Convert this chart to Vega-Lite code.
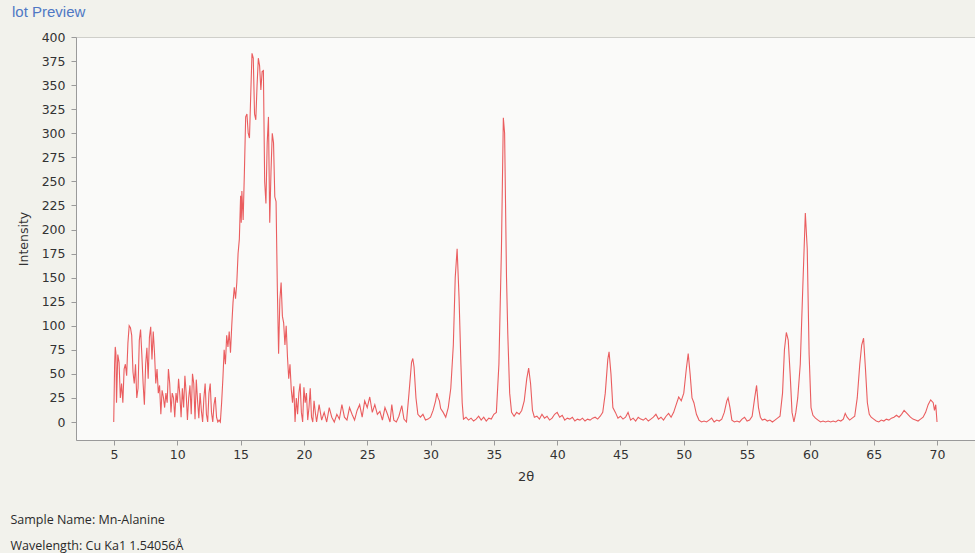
{
  "$schema": "https://vega.github.io/schema/vega-lite/v6.json",
  "autosize": {"type": "none"},
  "padding": {"left": 76, "top": 37, "right": 0, "bottom": 113},
  "width": 899,
  "height": 403,
  "background": "#f2f2ec",
  "title": {"text": "lot Preview", "anchor": "start", "frame": "group", "dx": -64, "offset": 11, "fontSize": 15, "font": "Liberation Sans", "fontWeight": "normal", "color": "#4f78c4"},
  "config": {
    "view": {"fill": "#fafaf9", "stroke": "#cfcfca", "strokeWidth": 1},
    "axis": {"labelFont": "DejaVu Sans", "labelFontSize": 12.5, "labelColor": "#333333", "titleFont": "DejaVu Sans", "titleFontWeight": "normal", "titleColor": "#333333", "domainColor": "#9a9a9a", "tickColor": "#9a9a9a", "grid": false, "tickSize": 5}
  },
  "data": {"values": [
    {"t":4.98,"i":0},{"t":5.05,"i":60},{"t":5.1,"i":78},{"t":5.15,"i":72},{"t":5.2,"i":20},{"t":5.3,"i":70},{"t":5.4,"i":62},{"t":5.5,"i":25},{"t":5.6,"i":40},{"t":5.7,"i":20},{"t":5.8,"i":55},{"t":5.9,"i":60},{"t":6.0,"i":48},{"t":6.1,"i":82},{"t":6.2,"i":100},{"t":6.3,"i":98},{"t":6.4,"i":90},{"t":6.5,"i":52},{"t":6.6,"i":40},{"t":6.7,"i":60},{"t":6.8,"i":25},{"t":6.9,"i":35},{"t":7.0,"i":85},{"t":7.1,"i":96},{"t":7.2,"i":70},{"t":7.3,"i":40},{"t":7.4,"i":18},{"t":7.5,"i":60},{"t":7.6,"i":77},{"t":7.7,"i":45},{"t":7.8,"i":88},{"t":7.9,"i":99},{"t":8.0,"i":65},{"t":8.1,"i":94},{"t":8.2,"i":72},{"t":8.3,"i":40},{"t":8.4,"i":55},{"t":8.5,"i":30},{"t":8.6,"i":38},{"t":8.7,"i":8},{"t":8.8,"i":33},{"t":8.9,"i":26},{"t":9.0,"i":15},{"t":9.1,"i":30},{"t":9.2,"i":20},{"t":9.3,"i":55},{"t":9.4,"i":40},{"t":9.5,"i":10},{"t":9.6,"i":30},{"t":9.7,"i":25},{"t":9.8,"i":5},{"t":9.9,"i":30},{"t":10.0,"i":20},{"t":10.1,"i":45},{"t":10.2,"i":28},{"t":10.3,"i":5},{"t":10.4,"i":35},{"t":10.5,"i":15},{"t":10.6,"i":48},{"t":10.7,"i":30},{"t":10.8,"i":2},{"t":10.9,"i":25},{"t":11.0,"i":38},{"t":11.1,"i":8},{"t":11.2,"i":50},{"t":11.3,"i":40},{"t":11.4,"i":3},{"t":11.5,"i":44},{"t":11.6,"i":22},{"t":11.7,"i":4},{"t":11.8,"i":30},{"t":11.9,"i":12},{"t":12.0,"i":0},{"t":12.1,"i":25},{"t":12.2,"i":40},{"t":12.3,"i":8},{"t":12.4,"i":0},{"t":12.5,"i":30},{"t":12.6,"i":40},{"t":12.7,"i":10},{"t":12.8,"i":0},{"t":12.9,"i":18},{"t":13.0,"i":26},{"t":13.1,"i":5},{"t":13.2,"i":0},{"t":13.3,"i":2},{"t":13.4,"i":0},{"t":13.5,"i":20},{"t":13.6,"i":45},{"t":13.7,"i":75},{"t":13.8,"i":60},{"t":13.9,"i":90},{"t":14.0,"i":78},{"t":14.1,"i":94},{"t":14.2,"i":72},{"t":14.3,"i":100},{"t":14.4,"i":124},{"t":14.5,"i":140},{"t":14.6,"i":128},{"t":14.7,"i":145},{"t":14.8,"i":175},{"t":14.9,"i":190},{"t":15.0,"i":235},{"t":15.05,"i":207},{"t":15.1,"i":240},{"t":15.2,"i":210},{"t":15.3,"i":260},{"t":15.4,"i":317},{"t":15.5,"i":320},{"t":15.6,"i":300},{"t":15.7,"i":295},{"t":15.8,"i":340},{"t":15.9,"i":383},{"t":16.0,"i":378},{"t":16.1,"i":320},{"t":16.2,"i":314},{"t":16.3,"i":350},{"t":16.4,"i":378},{"t":16.5,"i":370},{"t":16.6,"i":345},{"t":16.7,"i":364},{"t":16.8,"i":365},{"t":16.9,"i":250},{"t":17.0,"i":227},{"t":17.1,"i":290},{"t":17.2,"i":317},{"t":17.3,"i":207},{"t":17.4,"i":260},{"t":17.5,"i":300},{"t":17.6,"i":290},{"t":17.7,"i":234},{"t":17.8,"i":229},{"t":17.9,"i":140},{"t":18.0,"i":71},{"t":18.1,"i":127},{"t":18.2,"i":145},{"t":18.3,"i":110},{"t":18.4,"i":103},{"t":18.5,"i":80},{"t":18.6,"i":100},{"t":18.7,"i":68},{"t":18.8,"i":45},{"t":18.9,"i":60},{"t":19.0,"i":34},{"t":19.1,"i":20},{"t":19.2,"i":37},{"t":19.3,"i":0},{"t":19.4,"i":25},{"t":19.5,"i":8},{"t":19.6,"i":30},{"t":19.7,"i":40},{"t":19.8,"i":10},{"t":19.9,"i":0},{"t":20.0,"i":36},{"t":20.1,"i":20},{"t":20.2,"i":30},{"t":20.3,"i":2},{"t":20.4,"i":15},{"t":20.5,"i":35},{"t":20.6,"i":5},{"t":20.7,"i":0},{"t":20.8,"i":22},{"t":20.9,"i":10},{"t":21.0,"i":0},
    {"t":21.2,"i":18},{"t":21.4,"i":2},{"t":21.6,"i":10},{"t":21.8,"i":0},{"t":22.0,"i":15},{"t":22.2,"i":5},{"t":22.4,"i":0},{"t":22.6,"i":8},{"t":22.8,"i":3},{"t":23.0,"i":18},{"t":23.2,"i":5},{"t":23.4,"i":2},{"t":23.6,"i":15},{"t":23.8,"i":8},{"t":24.0,"i":2},{"t":24.2,"i":12},{"t":24.4,"i":18},{"t":24.6,"i":5},{"t":24.8,"i":22},{"t":25.0,"i":15},{"t":25.2,"i":26},{"t":25.4,"i":10},{"t":25.6,"i":18},{"t":25.8,"i":8},{"t":26.0,"i":11},{"t":26.2,"i":2},{"t":26.4,"i":15},{"t":26.6,"i":8},{"t":26.8,"i":0},{"t":26.94,"i":18},{"t":27.1,"i":2},{"t":27.3,"i":0},{"t":27.5,"i":6},{"t":27.73,"i":17},{"t":27.9,"i":3},{"t":28.1,"i":0},{"t":28.3,"i":30},{"t":28.5,"i":62},{"t":28.6,"i":66},{"t":28.7,"i":57},{"t":28.85,"i":25},{"t":29.0,"i":8},{"t":29.2,"i":5},{"t":29.4,"i":8},{"t":29.6,"i":2},{"t":29.8,"i":3},{"t":30.0,"i":5},{"t":30.2,"i":12},{"t":30.4,"i":22},{"t":30.5,"i":30},{"t":30.6,"i":25},{"t":30.7,"i":22},{"t":30.8,"i":14},{"t":31.0,"i":10},{"t":31.2,"i":5},{"t":31.4,"i":15},{"t":31.6,"i":35},{"t":31.8,"i":80},{"t":31.95,"i":150},{"t":32.1,"i":180},{"t":32.25,"i":130},{"t":32.4,"i":60},{"t":32.5,"i":20},{"t":32.6,"i":3},{"t":32.8,"i":5},{"t":33.0,"i":2},{"t":33.2,"i":4},{"t":33.4,"i":1},{"t":33.6,"i":3},{"t":33.8,"i":6},{"t":34.0,"i":2},{"t":34.2,"i":5},{"t":34.4,"i":1},{"t":34.6,"i":4},{"t":34.8,"i":3},{"t":35.0,"i":8},{"t":35.2,"i":10},{"t":35.4,"i":60},{"t":35.6,"i":180},{"t":35.75,"i":316},{"t":35.85,"i":300},{"t":36.0,"i":150},{"t":36.1,"i":92},{"t":36.25,"i":30},{"t":36.4,"i":10},{"t":36.6,"i":6},{"t":36.8,"i":10},{"t":37.0,"i":8},{"t":37.2,"i":12},{"t":37.4,"i":22},{"t":37.6,"i":45},{"t":37.75,"i":56},{"t":37.9,"i":40},{"t":38.05,"i":12},{"t":38.2,"i":5},{"t":38.4,"i":6},{"t":38.6,"i":3},{"t":38.8,"i":8},{"t":39.0,"i":4},{"t":39.2,"i":6},{"t":39.4,"i":2},{"t":39.6,"i":4},{"t":39.8,"i":8},{"t":40.0,"i":10},{"t":40.2,"i":5},{"t":40.4,"i":7},{"t":40.6,"i":2},{"t":40.8,"i":4},{"t":41.0,"i":3},{"t":41.2,"i":5},{"t":41.4,"i":1},{"t":41.6,"i":3},{"t":41.8,"i":2},{"t":42.0,"i":4},{"t":42.2,"i":1},{"t":42.4,"i":3},{"t":42.6,"i":2},{"t":42.8,"i":4},{"t":43.0,"i":5},{"t":43.2,"i":3},{"t":43.4,"i":6},{"t":43.6,"i":10},{"t":43.8,"i":30},{"t":44.0,"i":65},{"t":44.1,"i":73},{"t":44.25,"i":50},{"t":44.4,"i":15},{"t":44.6,"i":10},{"t":44.8,"i":4},{"t":45.0,"i":6},{"t":45.2,"i":3},{"t":45.4,"i":5},{"t":45.6,"i":10},{"t":45.8,"i":2},{"t":46.0,"i":4},{"t":46.2,"i":1},{"t":46.4,"i":5},{"t":46.6,"i":3},{"t":46.8,"i":2},{"t":47.0,"i":4},{"t":47.2,"i":1},{"t":47.4,"i":3},{"t":47.6,"i":5},{"t":47.8,"i":8},{"t":48.0,"i":3},{"t":48.2,"i":5},{"t":48.4,"i":2},{"t":48.6,"i":6},{"t":48.8,"i":9},{"t":49.0,"i":5},{"t":49.2,"i":10},{"t":49.4,"i":18},{"t":49.6,"i":26},{"t":49.8,"i":22},{"t":50.0,"i":30},{"t":50.2,"i":55},{"t":50.35,"i":71},{"t":50.5,"i":50},{"t":50.65,"i":25},{"t":50.8,"i":20},{"t":51.0,"i":8},{"t":51.2,"i":2},{"t":51.4,"i":0},{"t":51.6,"i":1},{"t":51.8,"i":0},{"t":52.0,"i":2},{"t":52.2,"i":4},{"t":52.4,"i":0},{"t":52.6,"i":2},{"t":52.8,"i":1},{"t":53.0,"i":3},{"t":53.2,"i":10},{"t":53.4,"i":22},{"t":53.5,"i":25},{"t":53.65,"i":15},{"t":53.8,"i":2},{"t":54.0,"i":0},{"t":54.2,"i":1},{"t":54.4,"i":0},{"t":54.6,"i":3},{"t":54.8,"i":5},{"t":55.0,"i":1},{"t":55.2,"i":2},{"t":55.4,"i":6},{"t":55.6,"i":25},{"t":55.75,"i":38},{"t":55.9,"i":15},{"t":56.05,"i":5},{"t":56.2,"i":2},{"t":56.4,"i":3},{"t":56.6,"i":1},{"t":56.8,"i":2},{"t":57.0,"i":0},{"t":57.2,"i":2},{"t":57.4,"i":4},{"t":57.6,"i":6},{"t":57.8,"i":30},{"t":57.95,"i":75},{"t":58.1,"i":93},{"t":58.25,"i":85},{"t":58.4,"i":50},{"t":58.55,"i":10},{"t":58.7,"i":0},{"t":58.85,"i":10},{"t":59.0,"i":25},{"t":59.2,"i":60},{"t":59.4,"i":140},{"t":59.6,"i":217},{"t":59.75,"i":180},{"t":59.9,"i":70},{"t":60.05,"i":15},{"t":60.2,"i":7},{"t":60.4,"i":4},{"t":60.6,"i":2},{"t":60.8,"i":0},{"t":61.0,"i":1},{"t":61.2,"i":0},{"t":61.4,"i":1},{"t":61.6,"i":0},{"t":61.8,"i":1},{"t":62.0,"i":0},{"t":62.2,"i":2},{"t":62.4,"i":1},{"t":62.6,"i":3},{"t":62.75,"i":9},{"t":62.9,"i":5},{"t":63.1,"i":2},{"t":63.3,"i":4},{"t":63.5,"i":6},{"t":63.7,"i":25},{"t":63.9,"i":60},{"t":64.05,"i":80},{"t":64.2,"i":87},{"t":64.35,"i":55},{"t":64.5,"i":20},{"t":64.65,"i":8},{"t":64.8,"i":5},{"t":65.0,"i":3},{"t":65.2,"i":1},{"t":65.4,"i":0},{"t":65.6,"i":2},{"t":65.8,"i":1},{"t":66.0,"i":3},{"t":66.2,"i":2},{"t":66.4,"i":4},{"t":66.6,"i":5},{"t":66.8,"i":7},{"t":67.0,"i":5},{"t":67.2,"i":8},{"t":67.4,"i":12},{"t":67.55,"i":10},{"t":67.7,"i":8},{"t":67.9,"i":5},{"t":68.1,"i":3},{"t":68.3,"i":2},{"t":68.5,"i":1},{"t":68.7,"i":3},{"t":68.9,"i":5},{"t":69.1,"i":10},{"t":69.3,"i":18},{"t":69.5,"i":23},{"t":69.7,"i":20},{"t":69.8,"i":12},{"t":69.9,"i":18},{"t":70.0,"i":0}
  ]},
  "layer": [
    {
      "mark": {"type": "line", "color": "#ea5d5f", "strokeWidth": 1.1},
      "encoding": {
        "x": {"field": "t", "type": "quantitative", "scale": {"domain": [2, 73], "nice": false, "zero": false}, "axis": {"title": "2θ", "titleFontSize": 13, "values": [5,10,15,20,25,30,35,40,45,50,55,60,65,70], "labelPadding": 3, "titlePadding": 10}},
        "y": {"field": "i", "type": "quantitative", "scale": {"domain": [-18.7, 400], "nice": false, "zero": false}, "axis": {"title": "Intensity", "titleFontSize": 12.5, "values": [0,25,50,75,100,125,150,175,200,225,250,275,300,325,350,375,400], "labelPadding": 6, "titlePadding": 11}}
      }
    },
    {
      "data": {"values": []},
      "mark": {"type": "rule"},
      "encoding": {
        "x": {"field": "t", "type": "quantitative", "axis": {"orient": "bottom", "domain": false, "ticks": false, "labels": false, "title": ["Sample Name: Mn-Alanine", "Wavelength: Cu Ka1 1.54056Å"], "titleFont": "Open Sans", "titleFontSize": 12.5, "titleColor": "#2a2a2a", "titleAlign": "left", "titleAnchor": "start", "titleBaseline": "alphabetic", "titleX": -66, "titleY": 83, "titleLineHeight": 26}}
      }
    }
  ],
  "resolve": {"axis": {"x": "independent"}}
}
